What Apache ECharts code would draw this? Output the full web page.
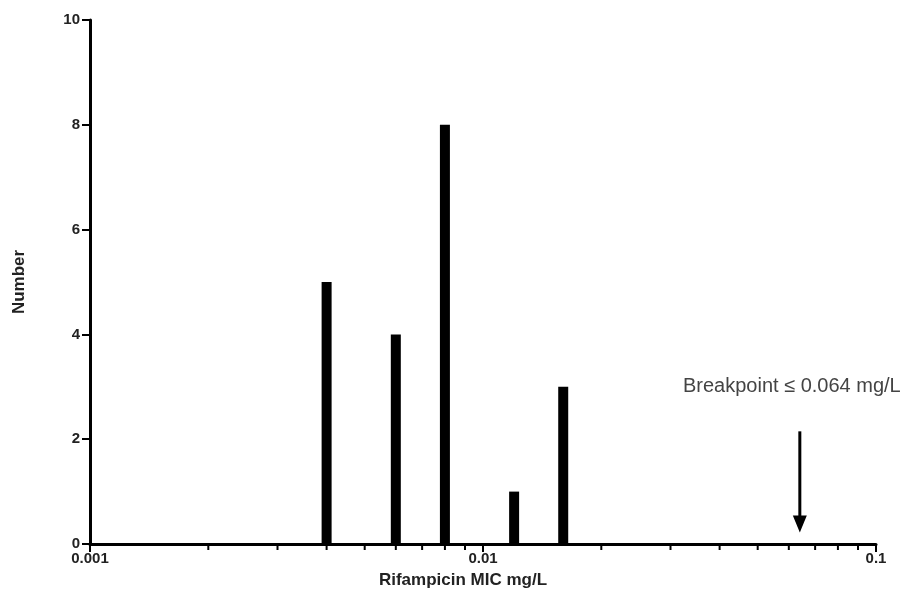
<!DOCTYPE html>
<html>
<head>
<meta charset="utf-8">
<script src="https://cdn.jsdelivr.net/npm/echarts@6/dist/echarts.min.js"></script>
<style>
  html, body { margin: 0; padding: 0; background: #fff; }
  #chart { width: 915px; height: 607px; }
</style>
</head>
<body>
<div id="chart"></div>
<script>
// MIC values (mg/L) and number of isolates at each
const micValues = [0.004, 0.006, 0.008, 0.012, 0.016];
const counts = [5, 4, 8, 1, 3];

// Log axis labels and minor tick positions
const majorTicks = [0.001, 0.01, 0.1];
const minorTicks = [0.002, 0.003, 0.004, 0.005, 0.006, 0.007, 0.008, 0.009,
                    0.02, 0.03, 0.04, 0.05, 0.06, 0.07, 0.08, 0.09];

// Breakpoint marker: MIC, arrow top, arrow tip, label height
const breakpoint = [0.064];
const arrowSpan = [2.15, 0.22];
const breakpointLabelY = [3.0];
const breakpointText = 'Breakpoint \u2264 0.064 mg/L';

const chart = echarts.init(document.getElementById('chart'));

const font = 'Liberation Sans, Arial, sans-serif';

chart.setOption({
  animation: false,
  grid: { left: 90, right: 39, top: 20, bottom: 63 },
  xAxis: {
    type: 'log',
    logBase: 10,
    min: 0.001,
    max: 0.1,
    name: 'Rifampicin MIC mg/L',
    nameLocation: 'middle',
    nameGap: 28,
    nameTextStyle: {
      fontFamily: font, fontSize: 17, fontWeight: 'bold', color: '#222',
      padding: [0, 40, 0, 0]
    },
    axisLine: { lineStyle: { color: '#000', width: 3 } },
    axisTick: { show: true, length: 8, lineStyle: { color: '#000', width: 2 } },
    axisLabel: {
      fontFamily: font, fontSize: 15, fontWeight: 'bold', color: '#222', margin: 7,
      formatter: function (v) {
        const r = Number(v.toPrecision(3));
        return majorTicks.indexOf(r) >= 0 ? String(r) : '';
      }
    },
    splitLine: { show: false }
  },
  yAxis: {
    type: 'value',
    min: 0,
    max: 10,
    interval: 2,
    name: 'Number',
    nameLocation: 'middle',
    nameGap: 62,
    nameTextStyle: { fontFamily: font, fontSize: 17, fontWeight: 'bold', color: '#222' },
    axisLine: { show: true, lineStyle: { color: '#000', width: 3 } },
    axisTick: { show: true, length: 8, lineStyle: { color: '#000', width: 2 } },
    axisLabel: { fontFamily: font, fontSize: 15, fontWeight: 'bold', color: '#222', margin: 10 },
    splitLine: { show: false }
  },
  series: [
    {
      type: 'bar',
      data: micValues.map((m, i) => [m, counts[i]]),
      barWidth: 10,
      itemStyle: { color: '#000' },
      z: 3
    },
    {
      // minor log ticks along the x axis
      type: 'custom',
      data: minorTicks.map(v => [v, 0]),
      renderItem: function (params, api) {
        const p = api.coord([api.value(0), 0]);
        return {
          type: 'line',
          shape: { x1: p[0], y1: p[1], x2: p[0], y2: p[1] + 6 },
          style: { stroke: '#000', lineWidth: 2 }
        };
      },
      silent: true,
      z: 4
    },
    {
      // breakpoint arrow
      type: 'custom',
      data: breakpoint.map(v => [v, arrowSpan[0], arrowSpan[1]]),
      renderItem: function (params, api) {
        const top = api.coord([api.value(0), api.value(1)]);
        const tip = api.coord([api.value(0), api.value(2)]);
        return {
          type: 'group',
          children: [
            {
              type: 'line',
              shape: { x1: top[0], y1: top[1], x2: tip[0], y2: tip[1] - 12 },
              style: { stroke: '#000', lineWidth: 3 }
            },
            {
              type: 'polygon',
              shape: { points: [[tip[0] - 7, tip[1] - 17], [tip[0] + 7, tip[1] - 17], [tip[0], tip[1]]] },
              style: { fill: '#000' }
            }
          ]
        };
      },
      silent: true,
      z: 4
    },
    {
      // breakpoint label
      type: 'custom',
      data: breakpoint.map((v, i) => [v, breakpointLabelY[i]]),
      renderItem: function (params, api) {
        const p = api.coord([api.value(0), api.value(1)]);
        return {
          type: 'text',
          x: p[0] - 8,
          y: p[1],
          style: {
            text: breakpointText,
            fill: '#444',
            font: '20px ' + font,
            align: 'center',
            verticalAlign: 'middle'
          }
        };
      },
      silent: true,
      z: 4
    }
  ]
});
</script>
</body>
</html>
